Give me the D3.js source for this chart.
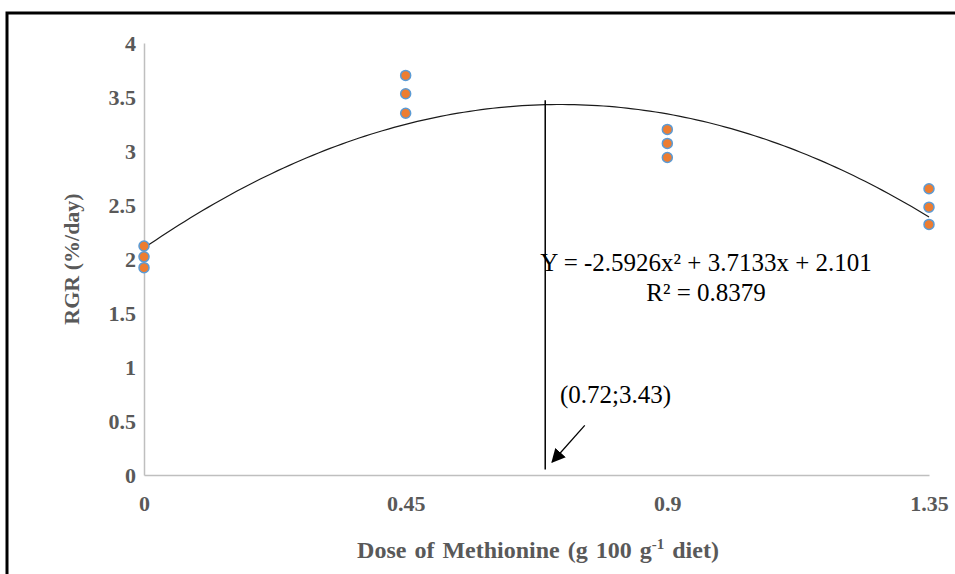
<!DOCTYPE html>
<html>
<head>
<meta charset="utf-8">
<script src="https://cdn.jsdelivr.net/npm/d3@7"></script>
<style>
  body { margin: 0; background: #fff; }
  svg { display: block; }
</style>
</head>
<body>
<svg id="svg1" width="955" height="574"></svg>
<script>
"use strict"

// ======================================================================
// data (three replicates per dose)
const doses   = [0, 0.45, 0.9, 1.35];
const rgrRep1 = [2.12, 3.70, 3.20, 2.65];
const rgrRep2 = [2.02, 3.53, 3.07, 2.48];
const rgrRep3 = [1.92, 3.35, 2.94, 2.32];

// tick labels
const xTicks = [0, 0.45, 0.9, 1.35];
const yTicks = [0, 0.5, 1, 1.5, 2, 2.5, 3, 3.5, 4];

// trendline coefficients  (a x^2 + b x + c) as printed on the chart
const trendCoef = [-2.5926, 3.7133, 2.101];
const equationText = "Y = -2.5926x\u00b2 + 3.7133x + 2.101";
const r2Text = "R\u00b2 = 0.8379";
const optimumText = "(0.72;3.43)";

// ======================================================================
const svg = d3.select("#svg1");

// outer frame (Word-style box, runs off right and bottom)
svg.append("rect")
  .attr("x", 7).attr("y", 13)
  .attr("width", 1000).attr("height", 1000)
  .attr("fill", "none")
  .attr("stroke", "#000")
  .attr("stroke-width", 3);

// scales
const x = d3.scaleLinear().domain([0, 1.35]).range([144, 929]);
const y = d3.scaleLinear().domain([0, 4]).range([475, 43]);

const axisColor = "#bfbfbf";
const labelColor = "#595959";
const serif = "'Liberation Serif', 'Times New Roman', serif";

// y axis
const yAxis = svg.append("g")
  .attr("transform", `translate(${x(0)},0)`)
  .call(d3.axisLeft(y).tickValues(yTicks).tickSize(0).tickPadding(8)
    .tickFormat(d => String(d)));
yAxis.select(".domain").attr("stroke", axisColor).attr("stroke-width", 1.5);
yAxis.selectAll(".tick text")
  .attr("fill", labelColor)
  .style("font-family", serif)
  .style("font-weight", "bold")
  .style("font-size", "22px");

// x axis
const xAxis = svg.append("g")
  .attr("transform", `translate(0,${y(0)})`)
  .call(d3.axisBottom(x).tickValues(xTicks).tickSize(0).tickPadding(20)
    .tickFormat(d => String(d)));
xAxis.select(".domain").attr("stroke", axisColor).attr("stroke-width", 1.5);
xAxis.selectAll(".tick text")
  .attr("fill", labelColor)
  .style("font-family", serif)
  .style("font-weight", "bold")
  .style("font-size", "22px");

// axis titles
svg.append("text")
  .attr("transform", `translate(79,${y(2)}) rotate(-90)`)
  .attr("text-anchor", "middle")
  .attr("fill", labelColor)
  .style("font-family", serif)
  .style("font-weight", "bold")
  .style("font-size", "22px")
  .text("RGR (%/day)");

const xTitle = svg.append("text")
  .attr("x", 538)
  .attr("y", 558)
  .attr("text-anchor", "middle")
  .attr("fill", labelColor)
  .style("font-family", serif)
  .style("font-weight", "bold")
  .style("font-size", "24px")
  .style("word-spacing", "2px");
xTitle.append("tspan").text("Dose of Methionine  (g 100 g");
xTitle.append("tspan").attr("dy", -9).style("font-size", "15px").text("-1");
xTitle.append("tspan").attr("dy", 9).text(" diet)");

// trendline from the printed coefficients
const trendFn = v => trendCoef[0] * v * v + trendCoef[1] * v + trendCoef[2];
const trendX = d3.range(0, 1.3501, 0.01);
svg.append("path")
  .datum(trendX)
  .attr("fill", "none")
  .attr("stroke", "#1a1a1a")
  .attr("stroke-width", 1.2)
  .attr("d", d3.line().x(d => x(d)).y(d => y(trendFn(d))));

// optimum marker line
svg.append("line")
  .attr("x1", x(0.69)).attr("x2", x(0.69))
  .attr("y1", y(3.47)).attr("y2", y(0.05))
  .attr("stroke", "#000")
  .attr("stroke-width", 1.5);

// scatter points
const points = [];
doses.forEach((d, i) => {
  points.push({dose: d, rgr: rgrRep1[i]});
  points.push({dose: d, rgr: rgrRep2[i]});
  points.push({dose: d, rgr: rgrRep3[i]});
});
svg.selectAll(".dot")
  .data(points)
  .enter().append("circle")
    .attr("class", "dot")
    .attr("cx", d => x(d.dose))
    .attr("cy", d => y(d.rgr))
    .attr("r", 5)
    .attr("fill", "#ed7d31")
    .attr("stroke", "#5b9bd5")
    .attr("stroke-width", 1.5);

// trendline label
const eq = svg.append("g")
  .style("font-family", serif)
  .style("font-size", "25px")
  .attr("fill", "#000");
eq.append("text")
  .attr("x", 706).attr("y", 271)
  .attr("text-anchor", "middle")
  .text(equationText);
eq.append("text")
  .attr("x", 706).attr("y", 301)
  .attr("text-anchor", "middle")
  .text(r2Text);

// optimum label with arrow
svg.append("defs").append("marker")
  .attr("id", "arrowHead")
  .attr("viewBox", "0 0 10 10")
  .attr("refX", 9).attr("refY", 5)
  .attr("markerWidth", 14).attr("markerHeight", 14)
  .attr("markerUnits", "userSpaceOnUse")
  .attr("orient", "auto")
  .append("path")
    .attr("d", "M0,0 L10,5 L0,10 z")
    .attr("fill", "#000");

svg.append("text")
  .attr("x", 560).attr("y", 403)
  .style("font-family", serif)
  .style("font-size", "25px")
  .attr("fill", "#000")
  .text(optimumText);

svg.append("line")
  .attr("x1", x(0.758)).attr("y1", y(0.46))
  .attr("x2", x(0.702)).attr("y2", y(0.12))
  .attr("stroke", "#000")
  .attr("stroke-width", 1.3)
  .attr("marker-end", "url(#arrowHead)");
</script>
</body>
</html>
